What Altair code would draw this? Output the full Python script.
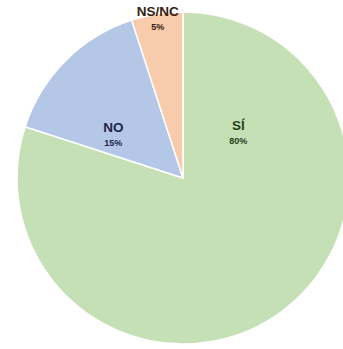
import altair as alt
import pandas as pd
import math

categories = ["SÍ", "NO", "NS/NC"]
values = [80, 15, 5]
labels = ["80%", "15%", "5%"]
order = [1, 2, 3]

slice_colors = ["#c5e0b4", "#b4c7e7", "#f8cbad"]
text_colors = ["#27401d", "#1b2846", "#35200e"]

df = pd.DataFrame({"cat": categories, "val": values, "lab": labels, "ord": order})

CX, CY, R = 183, 178, 166
FONT = "Liberation Sans"
theta_scale = alt.Scale(domain=[0, 100], range=[0, 2 * math.pi])

base = alt.Chart(df)

pie = base.mark_arc(x=CX, y=CY, radius=R, stroke="white", strokeWidth=1.5).encode(
    theta=alt.Theta("val:Q", stack=True, scale=theta_scale),
    color=alt.Color("cat:N", scale=alt.Scale(domain=categories, range=slice_colors), legend=None),
    order=alt.Order("ord:Q"),
)

labelled = base.transform_window(
    cum="sum(val)", sort=[alt.SortField("ord")], frame=[None, 0]
).transform_calculate(mid="datum.cum - datum.val / 2")

# per-label placement (radius, theta offset in radians)
placement = {"SÍ": (71, -1.62), "NO": (82, -0.23), "NS/NC": (161, 0.0)}

layers = [pie]
for cat, col in zip(categories, text_colors):
    r, off = placement[cat]
    sub = labelled.transform_filter(alt.datum.cat == cat)
    enc = dict(theta=alt.Theta("mid:Q", stack=None, scale=theta_scale))
    layers.append(sub.mark_text(x=CX, y=CY, radius=r, thetaOffset=off, dy=-7, font=FONT,
                                fontWeight="bold", fontSize=13.5, color=col).encode(text="cat:N", **enc))
    layers.append(sub.mark_text(x=CX, y=CY, radius=r, thetaOffset=off, dy=8, font=FONT,
                                fontWeight="bold", fontSize=9, color=col).encode(text="lab:N", **enc))

chart = alt.layer(*layers).properties(
    width=343, height=349, autosize=alt.AutoSizeParams(type="none"), padding=0,
    background="white",
).configure_view(stroke=None)

chart.save("out.html", embed_options={"renderer": "svg", "actions": False})
